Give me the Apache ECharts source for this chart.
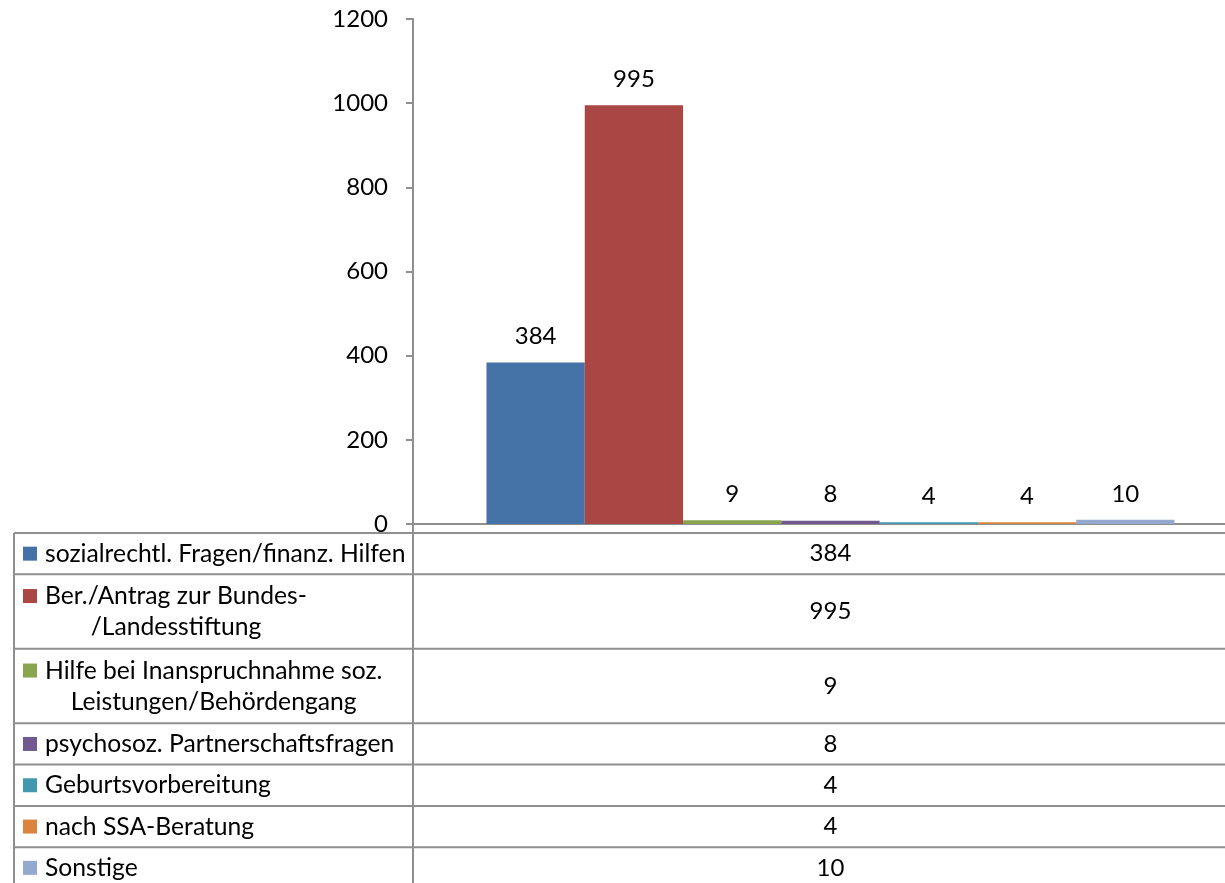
<!DOCTYPE html>
<html>
<head>
<meta charset="utf-8">
<script src="https://cdn.jsdelivr.net/npm/echarts@6/dist/echarts.min.js"></script>
<style>
  html, body { margin: 0; padding: 0; background: #fff; }
  #chart { width: 1225px; height: 883px; }
</style>
</head>
<body>
<div id="chart"></div>
<script>
// data
const seriesNames = [
  'sozialrechtl. Fragen/finanz. Hilfen',
  'Ber./Antrag zur Bundes-\n/Landesstiftung',
  'Hilfe bei Inanspruchnahme soz.\nLeistungen/Behördengang',
  'psychosoz. Partnerschaftsfragen',
  'Geburtsvorbereitung',
  'nach SSA-Beratung',
  'Sonstige'
]
const seriesValues = [384, 995, 9, 8, 4, 4, 10]
const seriesColors = ['#4572A7', '#AA4643', '#89A54E', '#71588F', '#4198AF', '#DB843D', '#93A9CF']
const categories = ['']

const FONT = 'Lato, "Noto Sans", sans-serif'
const FS = 24
const TABLE_FS = 24.7

// layout
const gridLeft = 413, gridTop = 19, gridW = 835, gridH = 505
const tableLeft = 14, tableTop = 533
const valueColX = gridLeft + gridW / 2
const lineColor = '#8f8f8f'

const chart = echarts.init(document.getElementById('chart'))

const ctx = document.createElement('canvas').getContext('2d')
ctx.font = TABLE_FS + 'px ' + FONT
function textW(s) { return ctx.measureText(s).width }

// data table under the plot (legend keys + values)
function buildTable() {
  const els = []
  const font = TABLE_FS + 'px ' + FONT
  let y = tableTop
  seriesNames.forEach((name, i) => {
    const lines = name.split('\n')
    const h = lines.length > 1 ? 74.5 : 41.3
    const cy = y + h / 2
    els.push({ type: 'line', shape: { x1: tableLeft, y1: y, x2: 1260, y2: y }, style: { stroke: lineColor, lineWidth: 2 } })
    els.push({ type: 'rect', shape: { x: 23, y: (lines.length > 1 ? cy - 15.5 : cy) - 7, width: 14, height: 14 }, style: { fill: seriesColors[i] } })
    if (lines.length > 1) {
      const w = Math.max(...lines.map(textW))
      els.push({ type: 'text', x: 45 + w / 2, y: cy, style: { text: name, font, fill: '#000', align: 'center', verticalAlign: 'middle', lineHeight: 31 } })
    } else {
      els.push({ type: 'text', x: 45, y: cy, style: { text: name, font, fill: '#000', align: 'left', verticalAlign: 'middle' } })
    }
    els.push({ type: 'text', x: valueColX, y: cy, style: { text: String(seriesValues[i]), font: FS + 'px ' + FONT, fill: '#000', align: 'center', verticalAlign: 'middle' } })
    y += h
  })
  els.push({ type: 'line', shape: { x1: tableLeft, y1: tableTop, x2: tableLeft, y2: 900 }, style: { stroke: lineColor, lineWidth: 2 } })
  els.push({ type: 'line', shape: { x1: gridLeft, y1: gridTop + gridH, x2: gridLeft, y2: 900 }, style: { stroke: lineColor, lineWidth: 2 } })
  return els
}

chart.setOption({
  animation: false,
  grid: { left: gridLeft, top: gridTop, width: gridW, height: gridH, outerBoundsMode: 'none' },
  xAxis: {
    type: 'category',
    data: categories,
    axisLine: { lineStyle: { color: lineColor, width: 2 } },
    axisTick: { show: false },
    axisLabel: { show: false }
  },
  yAxis: {
    type: 'value',
    min: 0, max: 1200, interval: 200,
    axisLine: { show: true, lineStyle: { color: lineColor, width: 2 } },
    axisTick: { show: true, length: 7, lineStyle: { color: lineColor, width: 2 } },
    splitLine: { show: false },
    axisLabel: { color: '#000', fontSize: FS, fontFamily: FONT, margin: 25, formatter: v => String(v) }
  },
  series: seriesNames.map((name, i) => ({
    name,
    type: 'bar',
    data: [seriesValues[i]],
    barGap: '0%',
    barCategoryGap: '17.6%',
    itemStyle: { color: seriesColors[i] },
    label: { show: true, position: 'top', distance: 14, color: '#000', fontSize: FS, fontFamily: FONT }
  })),
  graphic: buildTable()
})
</script>
</body>
</html>
